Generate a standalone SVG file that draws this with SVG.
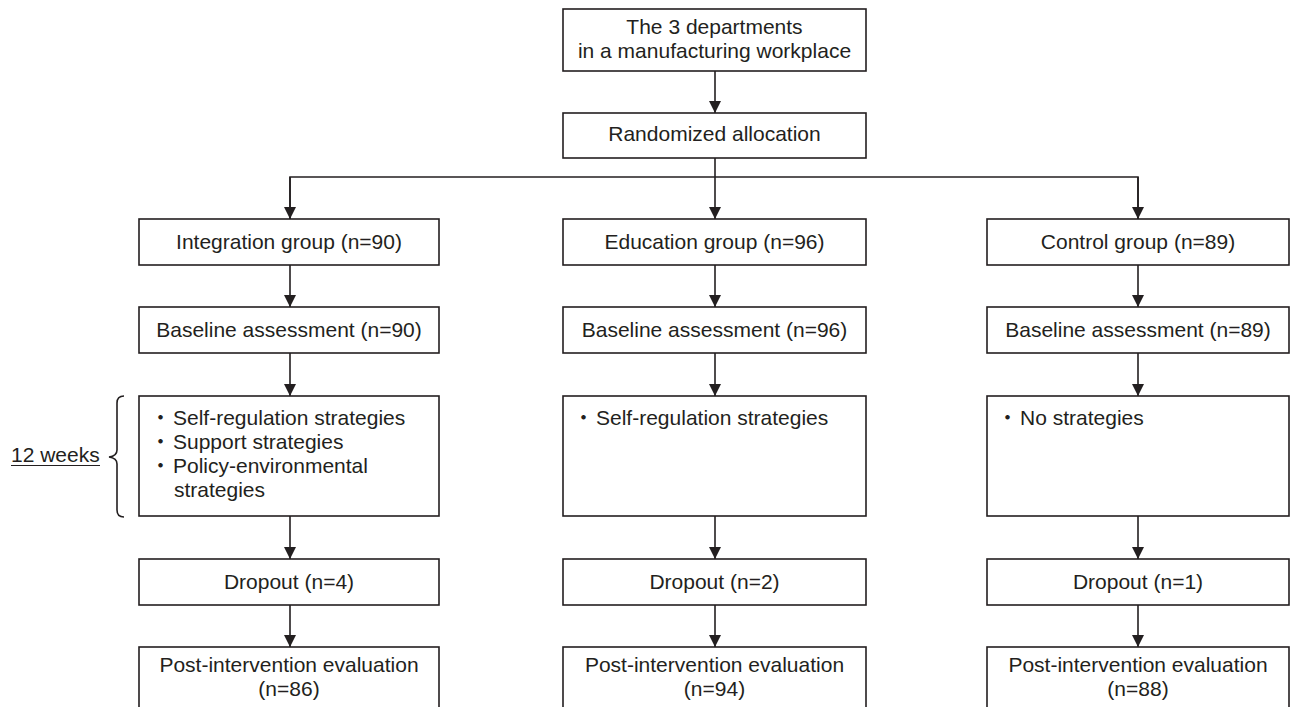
<svg xmlns="http://www.w3.org/2000/svg" width="1293" height="707" viewBox="0 0 1293 707">
<defs>
<style>
.box{fill:#fff;stroke:#231f20;stroke-width:1.6}
.t{font-family:"Liberation Sans",Arial,"Noto Sans CJK JP",sans-serif;font-size:21px;fill:#231f20}
.c{text-anchor:middle}
.ln{fill:none;stroke:#231f20;stroke-width:1.6}
</style>
<marker id="ah" markerUnits="userSpaceOnUse" markerWidth="14" markerHeight="14" viewBox="0 0 14 14" refX="13" refY="7" orient="auto">
<path d="M1,1 L13,7 L1,13 Z" fill="#231f20"/>
</marker>
</defs>
<rect width="1293" height="707" fill="#fff"/>

<g id="connectors">
<line class="ln" x1="715" y1="71" x2="715" y2="113" marker-end="url(#ah)"/>
<line class="ln" x1="715" y1="158" x2="715" y2="219" marker-end="url(#ah)"/>
<polyline class="ln" points="290,219 290,177 1138,177 1138,219"/>
<line class="ln" x1="290" y1="177" x2="290" y2="219" marker-end="url(#ah)"/>
<line class="ln" x1="1138" y1="177" x2="1138" y2="219" marker-end="url(#ah)"/>
<line class="ln" x1="290" y1="265" x2="290" y2="307" marker-end="url(#ah)"/>
<line class="ln" x1="715" y1="265" x2="715" y2="307" marker-end="url(#ah)"/>
<line class="ln" x1="1138" y1="265" x2="1138" y2="307" marker-end="url(#ah)"/>
<line class="ln" x1="290" y1="353" x2="290" y2="396" marker-end="url(#ah)"/>
<line class="ln" x1="715" y1="353" x2="715" y2="396" marker-end="url(#ah)"/>
<line class="ln" x1="1138" y1="353" x2="1138" y2="396" marker-end="url(#ah)"/>
<line class="ln" x1="290" y1="516" x2="290" y2="559" marker-end="url(#ah)"/>
<line class="ln" x1="715" y1="516" x2="715" y2="559" marker-end="url(#ah)"/>
<line class="ln" x1="1138" y1="516" x2="1138" y2="559" marker-end="url(#ah)"/>
<line class="ln" x1="290" y1="605" x2="290" y2="647" marker-end="url(#ah)"/>
<line class="ln" x1="715" y1="605" x2="715" y2="647" marker-end="url(#ah)"/>
<line class="ln" x1="1138" y1="605" x2="1138" y2="647" marker-end="url(#ah)"/>
</g>

<g id="n-departments">
<rect class="box" x="563" y="9" width="303" height="62"/>
<text class="t c" x="714.5" y="34">The 3 departments</text>
<text class="t c" x="714.5" y="58">in a manufacturing workplace</text>
</g>
<g id="n-random">
<rect class="box" x="563" y="113" width="303" height="45"/>
<text class="t c" x="714.5" y="141">Randomized allocation</text>
</g>

<g id="n-int-group">
<rect class="box" x="139" y="219" width="300" height="46"/>
<text class="t c" x="289" y="249">Integration group (n=90)</text>
</g>
<g id="n-edu-group">
<rect class="box" x="563" y="219" width="303" height="46"/>
<text class="t c" x="714.5" y="249">Education group (n=96)</text>
</g>
<g id="n-ctl-group">
<rect class="box" x="987" y="219" width="302" height="46"/>
<text class="t c" x="1138" y="249">Control group (n=89)</text>
</g>

<g id="n-int-base">
<rect class="box" x="139" y="307" width="300" height="46"/>
<text class="t c" x="289" y="337">Baseline assessment (n=90)</text>
</g>
<g id="n-edu-base">
<rect class="box" x="563" y="307" width="303" height="46"/>
<text class="t c" x="714.5" y="337">Baseline assessment (n=96)</text>
</g>
<g id="n-ctl-base">
<rect class="box" x="987" y="307" width="302" height="46"/>
<text class="t c" x="1138" y="337">Baseline assessment (n=89)</text>
</g>

<g id="n-int-strat">
<rect class="box" x="139" y="396" width="300" height="120"/>
<text class="t" x="150" y="425">・<tspan dx="2">Self-regulation strategies</tspan></text>
<text class="t" x="150" y="449">・<tspan dx="2">Support strategies</tspan></text>
<text class="t" x="150" y="473">・<tspan dx="2">Policy-environmental</tspan></text>
<text class="t" x="174" y="497">strategies</text>
</g>
<g id="n-edu-strat">
<rect class="box" x="563" y="396" width="303" height="120"/>
<text class="t" x="573" y="425">・<tspan dx="2">Self-regulation strategies</tspan></text>
</g>
<g id="n-ctl-strat">
<rect class="box" x="987" y="396" width="302" height="120"/>
<text class="t" x="997" y="425">・<tspan dx="2">No strategies</tspan></text>
</g>

<g id="weeks">
<path class="ln" d="M124,396 Q117,396 117,403 L117,450 Q117,456 109,457 Q117,458 117,464 L117,510 Q117,517 124,517"/>
<text class="t" x="11" y="462">12 weeks</text>
<line x1="11" y1="465.5" x2="100" y2="465.5" stroke="#231f20" stroke-width="1.2"/>
</g>

<g id="n-int-drop">
<rect class="box" x="139" y="559" width="300" height="46"/>
<text class="t c" x="289" y="589">Dropout (n=4)</text>
</g>
<g id="n-edu-drop">
<rect class="box" x="563" y="559" width="303" height="46"/>
<text class="t c" x="714.5" y="589">Dropout (n=2)</text>
</g>
<g id="n-ctl-drop">
<rect class="box" x="987" y="559" width="302" height="46"/>
<text class="t c" x="1138" y="589">Dropout (n=1)</text>
</g>

<g id="n-int-post">
<rect class="box" x="139" y="647" width="300" height="70"/>
<text class="t c" x="289" y="672">Post-intervention evaluation</text>
<text class="t c" x="289" y="696">(n=86)</text>
</g>
<g id="n-edu-post">
<rect class="box" x="563" y="647" width="303" height="70"/>
<text class="t c" x="714.5" y="672">Post-intervention evaluation</text>
<text class="t c" x="714.5" y="696">(n=94)</text>
</g>
<g id="n-ctl-post">
<rect class="box" x="987" y="647" width="302" height="70"/>
<text class="t c" x="1138" y="672">Post-intervention evaluation</text>
<text class="t c" x="1138" y="696">(n=88)</text>
</g>
</svg>
